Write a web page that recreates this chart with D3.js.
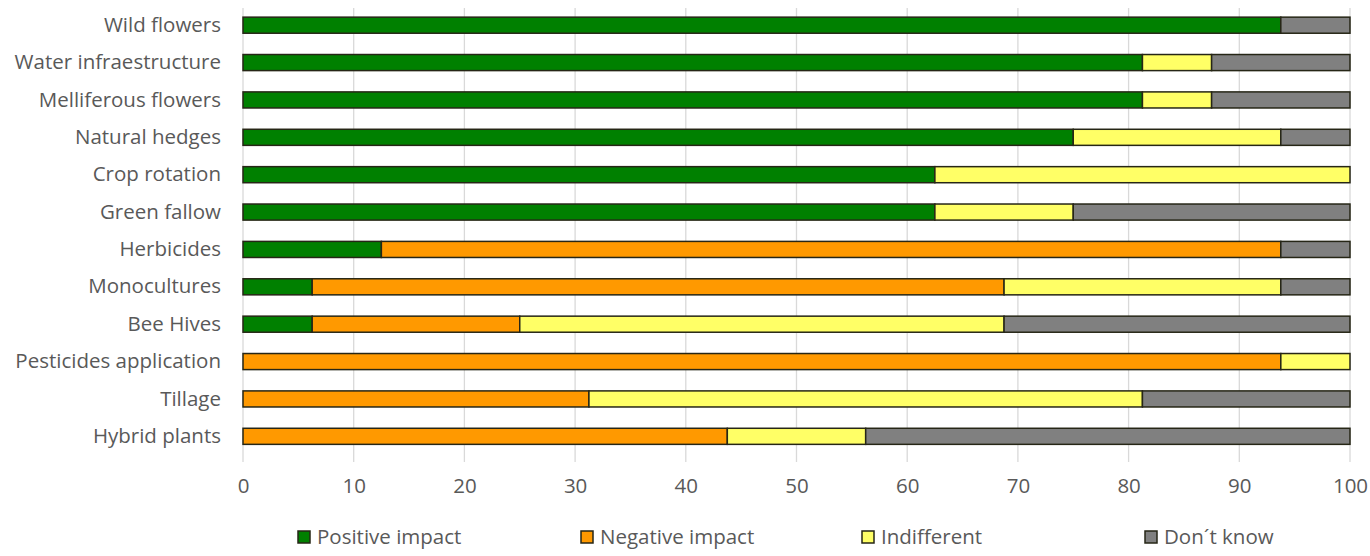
<!DOCTYPE html>
<html>
<head>
<meta charset="utf-8">
<script src="https://cdn.jsdelivr.net/npm/d3@7"></script>
<style>
  html, body { margin: 0; padding: 0; background: #fff; }
  svg { display: block; font-family: "Open Sans", "Noto Sans", sans-serif; }
</style>
</head>
<body>
<svg id="chart" width="1370" height="556"></svg>
<script>
// Practices rated by respondents (% of answers)
const categories = [
  "Wild flowers", "Water infraestructure", "Melliferous flowers", "Natural hedges",
  "Crop rotation", "Green fallow", "Herbicides", "Monocultures", "Bee Hives",
  "Pesticides application", "Tillage", "Hybrid plants"
];
const seriesNames = ["Positive impact", "Negative impact", "Indifferent", "Don\u00b4t know"];
const positive    = [93.75, 81.25, 81.25, 75,    62.5, 62.5, 12.5,  6.25,  6.25,  0,     0,     0];
const negative    = [0,     0,     0,     0,     0,    0,    81.25, 62.5,  18.75, 93.75, 31.25, 43.75];
const indifferent = [0,     6.25,  6.25,  18.75, 37.5, 12.5, 0,     25,    43.75, 6.25,  50,    12.5];
const dontKnow    = [6.25,  12.5,  12.5,  6.25,  0,    25,   6.25,  6.25,  31.25, 0,     18.75, 43.75];
const xTicks = [0, 10, 20, 30, 40, 50, 60, 70, 80, 90, 100];
const colors = ["#008000", "#FF9900", "#FFFF66", "#808080"];

const rows = categories.map((c, i) => ({
  cat: c,
  [seriesNames[0]]: positive[i],
  [seriesNames[1]]: negative[i],
  [seriesNames[2]]: indifferent[i],
  [seriesNames[3]]: dontKnow[i]
}));

const FONT = 20.5;
const svg = d3.select("#chart");
const x = d3.scaleLinear().domain([0, 100]).range([243, 1350]);
const y = d3.scaleBand().domain(categories).range([6.5, 455]).paddingInner(0.57).paddingOuter(0.285);
const color = d3.scaleOrdinal().domain(seriesNames).range(colors);

// vertical gridlines
svg.append("g").selectAll("line").data(xTicks).join("line")
  .attr("x1", d => x(d)).attr("x2", d => x(d))
  .attr("y1", 8).attr("y2", 462)
  .attr("stroke", "#d9d9d9").attr("stroke-width", 1.3);

// x axis tick labels
const xAxis = d3.axisBottom(x).tickValues(xTicks).tickSize(0).tickPadding(0);
svg.append("g").attr("transform", "translate(0,478)").call(xAxis)
  .call(g => g.select(".domain").remove())
  .call(g => g.selectAll("text").attr("fill", "#595959").attr("font-size", FONT)
    .attr("font-family", "\"Open Sans\", sans-serif"));

// category labels
const yAxis = d3.axisLeft(y).tickSize(0).tickPadding(0);
svg.append("g").attr("transform", "translate(221,0)").call(yAxis)
  .call(g => g.select(".domain").remove())
  .call(g => g.selectAll("text").attr("fill", "#595959").attr("font-size", FONT)
    .attr("font-family", "\"Open Sans\", sans-serif"));

// stacked bars
const stack = d3.stack().keys(seriesNames)(rows);
svg.append("g").selectAll("g").data(stack).join("g")
  .attr("fill", d => color(d.key))
  .selectAll("rect").data(d => d.filter(s => s[1] - s[0] > 0)).join("rect")
  .attr("x", d => x(d[0]))
  .attr("width", d => x(d[1]) - x(d[0]))
  .attr("y", d => y(d.data.cat))
  .attr("height", y.bandwidth())
  .attr("stroke", "#262616").attr("stroke-width", 1.5);

// legend
const legendX = [298, 581, 862, 1145];
const legend = svg.append("g").selectAll("g").data(seriesNames).join("g")
  .attr("transform", (d, i) => `translate(${legendX[i]},531)`);
legend.append("rect").attr("width", 12).attr("height", 12)
  .attr("fill", d => color(d)).attr("stroke", "#262616").attr("stroke-width", 1.5);
legend.append("text").attr("x", 19).attr("y", 6).attr("dy", "0.35em")
  .attr("fill", "#595959").attr("font-size", FONT).text(d => d);
</script>
</body>
</html>
